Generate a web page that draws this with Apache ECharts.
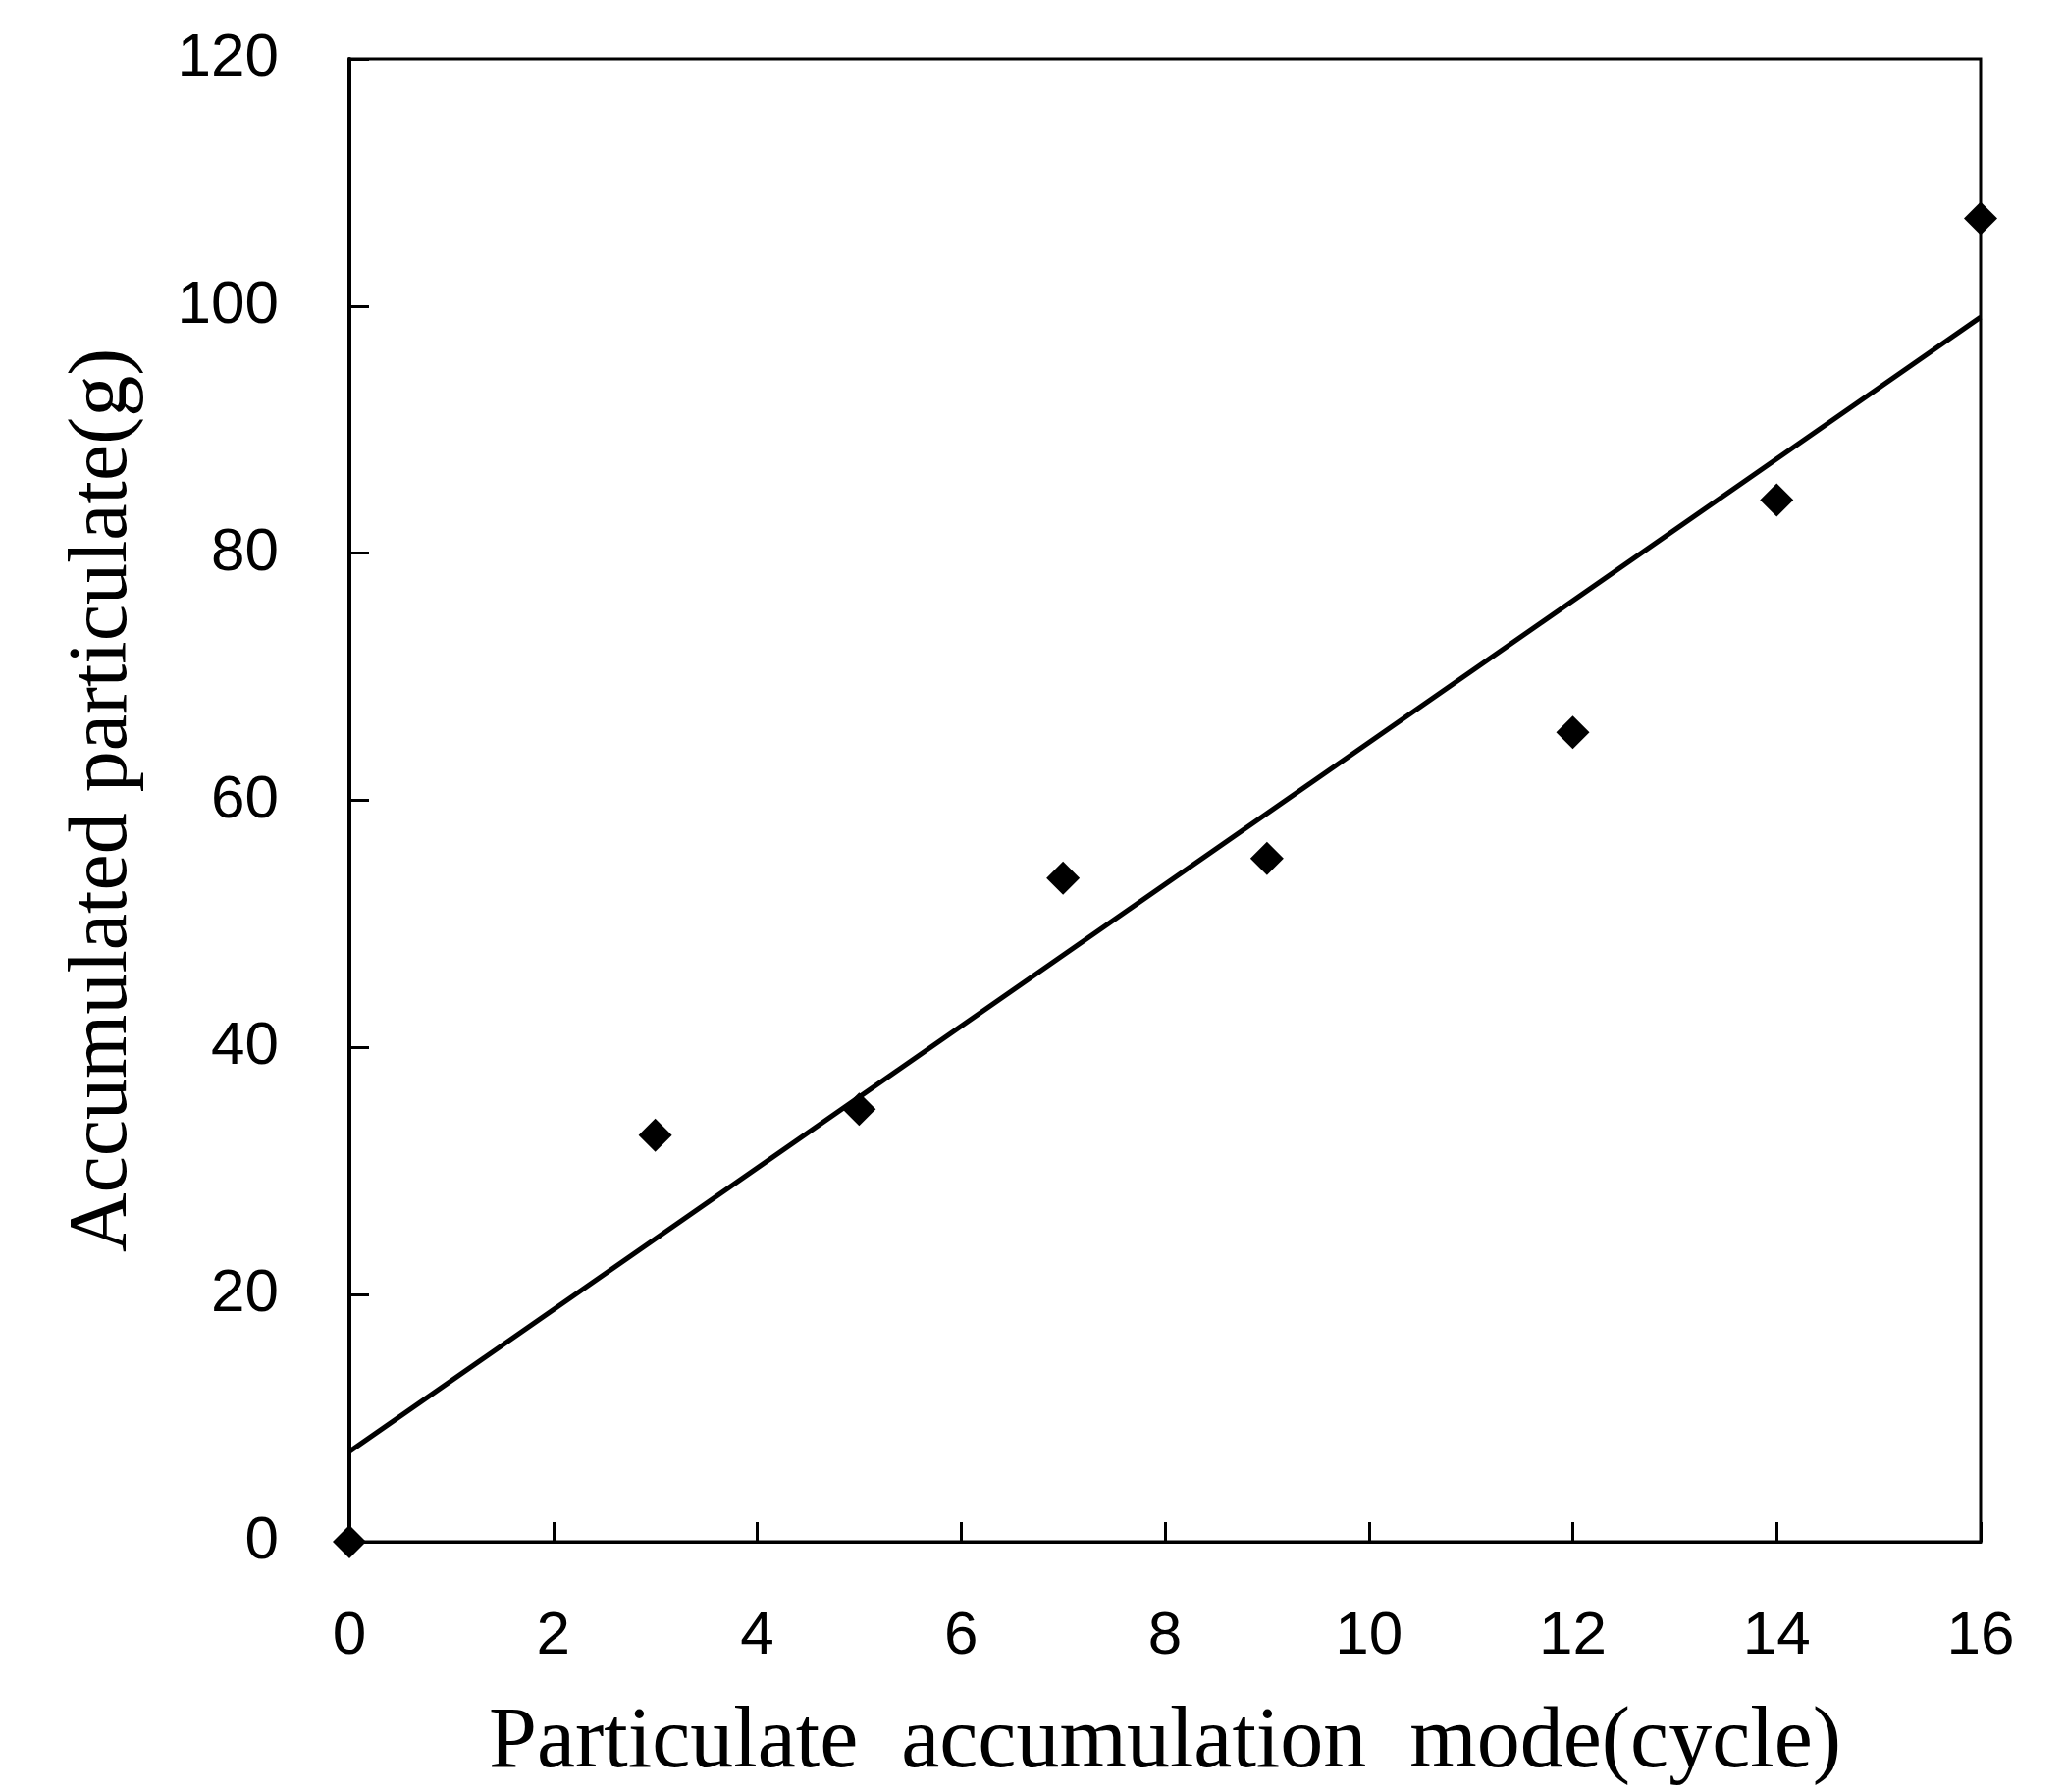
<!DOCTYPE html>
<html>
<head>
<meta charset="utf-8">
<style>
  html, body { margin: 0; padding: 0; background: #ffffff; }
  #chart { width: 2104px; height: 1826px; }
</style>
<script src="https://cdn.jsdelivr.net/npm/echarts@6/dist/echarts.min.js"></script>
</head>
<body>
<div id="chart"></div>
<script>
// Measured accumulation per cycle count
const cycles = [0, 3, 5, 7, 9, 12, 14, 16];
const accumulated = [0, 32.9, 35.0, 53.7, 55.3, 65.5, 84.3, 107.1];

// Linear fit drawn through the measurements (end points)
const fitX = [0, 16];
const fitY = [7.3, 99.1];

// Axis ranges and tick spacing
const xRange = [0, 16];
const xStep = 2;
const yRange = [0, 120];
const yStep = 20;

const xTitle = 'Particulate  accumulation  mode(cycle)';
const yTitle = 'Accumulated particulate(g)';

const points = cycles.map((c, i) => [c, accumulated[i]]);
const fitLine = fitX.map((x, i) => [x, fitY[i]]);

const tickFont = {
  fontFamily: 'Liberation Sans',
  fontSize: 62,
  color: '#000'
};

const chart = echarts.init(document.getElementById('chart'), null, { renderer: 'canvas' });
chart.setOption({
  backgroundColor: '#ffffff',
  animation: false,
  grid: {
    left: 356,
    right: 86,
    top: 60,
    bottom: 254,
    show: true,
    borderColor: '#000',
    borderWidth: 3,
    backgroundColor: 'transparent'
  },
  xAxis: {
    type: 'value',
    min: xRange[0],
    max: xRange[1],
    interval: xStep,
    name: xTitle,
    nameLocation: 'middle',
    nameGap: 162,
    nameTextStyle: { fontFamily: 'Liberation Serif', fontSize: 88, color: '#000' },
    axisLine: { show: true, onZero: false, lineStyle: { color: '#000', width: 3 } },
    axisTick: { show: true, inside: true, length: 20, lineStyle: { color: '#000', width: 3 } },
    axisLabel: Object.assign({ margin: 66 }, tickFont),
    splitLine: { show: false }
  },
  yAxis: {
    type: 'value',
    min: yRange[0],
    max: yRange[1],
    interval: yStep,
    name: yTitle,
    nameLocation: 'middle',
    nameGap: 208,
    nameTextStyle: { fontFamily: 'Liberation Serif', fontSize: 84, color: '#000' },
    axisLine: { show: true, onZero: false, lineStyle: { color: '#000', width: 4 } },
    axisTick: { show: true, inside: true, length: 20, lineStyle: { color: '#000', width: 3 } },
    axisLabel: Object.assign({ margin: 72 }, tickFont),
    splitLine: { show: false }
  },
  series: [
    {
      type: 'line',
      data: fitLine,
      showSymbol: false,
      symbol: 'none',
      lineStyle: { color: '#000', width: 5 },
      z: 3
    },
    {
      type: 'scatter',
      data: points,
      symbol: 'diamond',
      symbolSize: 34,
      itemStyle: { color: '#000', opacity: 1 },
      z: 4
    }
  ]
});
</script>
</body>
</html>
